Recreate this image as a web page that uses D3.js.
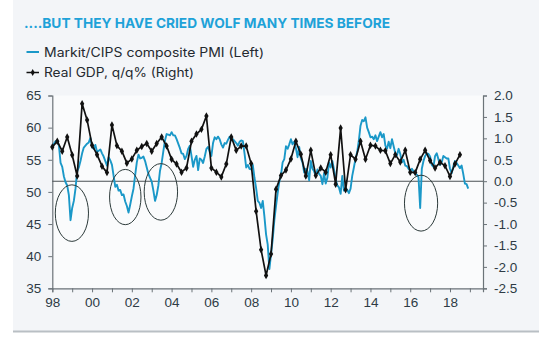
<!DOCTYPE html>
<html>
<head>
<meta charset="utf-8">
<script src="https://cdn.jsdelivr.net/npm/d3@7"></script>
<style>
  body { margin: 0; background: #fff; }
  .tick text { font-family: "Liberation Sans", Arial, sans-serif; font-size: 13.5px; fill: #2e3b45; }
  .axis path, .axis line { stroke: #6b7378; }
</style>
</head>
<body>
<svg id="chart" width="539" height="345"></svg>
<script>
// Markit/CIPS composite PMI, monthly from Jan 1998
var pmi = [
  56.8, 57.5, 57.9, 58.0, 57.2, 54.5, 53.9, 52.4, 51.5, 51.0, 49.5, 45.6, // 1998
  47.5, 48.6, 50.5, 53.2, 53.8, 54.8, 56.0, 56.9, 57.2, 57.5, 57.7, 58.4, // 1999
  57.0, 56.7, 57.3, 56.2, 56.4, 56.6, 56.0, 55.5, 54.8, 54.1, 55.4, 54.9, // 2000
  54.2, 52.5, 50.8, 51.1, 50.2, 50.3, 49.5, 49.6, 48.5, 47.8, 46.8, 48.0, // 2001
  49.3, 50.5, 52.6, 54.6, 55.8, 55.2, 55.3, 55.5, 54.8, 53.8, 52.8, 52.2, // 2002
  51.6, 50.2, 48.6, 49.5, 51.0, 53.3, 54.5, 56.3, 58.0, 59.0, 58.9, 58.8, // 2003
  59.3, 58.8, 58.8, 58.2, 57.5, 56.8, 56.0, 55.9, 55.1, 55.6, 56.7, 57.2, // 2004
  55.6, 53.9, 55.0, 55.6, 53.4, 55.2, 55.0, 54.5, 55.5, 56.7, 57.0, 56.2, // 2005
  55.6, 57.6, 58.5, 58.2, 58.6, 58.2, 57.4, 56.9, 57.6, 57.5, 58.1, 58.6, // 2006
  58.0, 58.2, 57.9, 57.6, 57.2, 57.8, 58.0, 57.9, 56.0, 53.8, 54.2, 53.6, // 2007
  53.5, 54.2, 52.2, 50.6, 48.6, 48.3, 47.5, 48.6, 46.2, 43.4, 41.8, 38.0, // 2008
  40.3, 42.6, 45.6, 47.8, 49.8, 51.6, 52.6, 54.6, 55.1, 57.1, 56.7, 57.4, // 2009
  58.2, 57.4, 57.8, 56.8, 55.4, 57.0, 55.2, 54.6, 53.0, 53.6, 53.2, 51.8, // 2010
  54.8, 53.6, 53.2, 52.5, 53.5, 52.8, 52.5, 51.2, 52.9, 51.3, 52.2, 54.6, // 2011
  53.8, 54.8, 53.5, 52.0, 51.0, 50.7, 49.7, 52.5, 50.2, 50.6, 50.3, 49.8, // 2012
  50.5, 52.5, 53.8, 55.2, 56.2, 58.0, 60.3, 61.2, 61.0, 61.6, 60.0, 59.3, // 2013
  58.5, 58.6, 58.2, 58.8, 57.9, 58.6, 59.3, 58.5, 59.0, 57.2, 56.7, 57.8, // 2014
  56.8, 58.2, 57.1, 56.0, 55.7, 56.7, 55.9, 54.6, 55.0, 54.1, 54.0, 53.6, // 2015
  53.3, 53.6, 53.2, 52.8, 52.7, 52.3, 47.5, 53.6, 54.8, 55.6, 56.0, 55.9, // 2016
  55.5, 54.2, 53.9, 55.6, 56.0, 55.1, 54.2, 54.6, 55.6, 55.4, 55.2, 55.2, // 2017
  53.6, 52.9, 54.0, 54.8, 54.5, 54.1, 53.7, 54.1, 52.8, 51.3, 51.2, 50.5  // 2018
];

// Real GDP q/q %, quarterly from 1998 Q1
var gdp = [
  0.80, 0.93, 0.70, 1.03,   // 1998
  0.61, 0.12, 1.81, 1.43,   // 1999
  0.84, 0.62, 0.35, 0.20,   // 2000
  1.31, 0.83, 0.70, 0.42,   // 2001
  0.52, 0.72, 0.81, 0.88,   // 2002
  0.70, 0.88, 1.03, 0.82,   // 2003
  0.51, 0.40, 0.21, 0.31,   // 2004
  0.93, 1.10, 1.21, 1.52,   // 2005
  0.31, 0.21, 0.10, 0.40,   // 2006
  1.03, 0.72, 0.82, 0.82,   // 2007
  0.41, -0.70, -1.60, -2.20, // 2008
  -1.70, -0.19, 0.13, 0.26, // 2009
  0.52, 0.93, 0.63, 0.12,   // 2010
  0.72, 0.13, 0.31, 0.21,   // 2011
  0.62, -0.07, 1.24, -0.20, // 2012
  0.62, 0.51, 0.93, 0.51,   // 2013
  0.84, 0.82, 0.72, 0.71,   // 2014
  0.41, 0.62, 0.45, 0.72,   // 2015
  0.21, 0.20, 0.51, 0.72,   // 2016
  0.48, 0.31, 0.44, 0.36,   // 2017
  0.11, 0.40, 0.62          // 2018
];

var leftTicks = [35, 40, 45, 50, 55, 60, 65];
var rightTicks = [-2.5, -2.0, -1.5, -1.0, -0.5, 0.0, 0.5, 1.0, 1.5, 2.0];
var yearTicks = d3.range(1998, 2020);
var yearLabels = d3.range(1998, 2019, 2);

// circled PMI dips: [start year, end year, pmi top, pmi bottom]
var circled = [
  [1998.15, 1999.82, 51.1, 42.3],
  [2000.88, 2002.46, 53.5, 44.9],
  [2002.62, 2004.30, 54.4, 45.6],
  [2015.71, 2017.38, 52.6, 43.9]
];

var titleText = "....BUT THEY HAVE CRIED WOLF MANY TIMES BEFORE";
var legendLabels = ["Markit/CIPS composite PMI (Left)", "Real GDP, q/q% (Right)"];

var blue = "#1a98c8";

var svg = d3.select("#chart");

// background panel
svg.append("rect")
    .attr("x", 13).attr("y", 0)
    .attr("width", 526).attr("height", 331)
    .attr("fill", "#f3f5f8");
svg.append("line")
    .attr("x1", 13).attr("x2", 539)
    .attr("y1", 331.5).attr("y2", 331.5)
    .attr("stroke", "#b9bfc4").attr("stroke-width", 2);

var x = d3.scaleLinear().domain([1998, 2019.66]).range([52.3, 483]);
var yL = d3.scaleLinear().domain([35, 65]).range([288.3, 95.5]);
var yR = d3.scaleLinear().domain([-2.5, 2.0]).range([288.3, 95.5]);

svg.append("rect")
    .attr("x", x.range()[0]).attr("y", yL(65))
    .attr("width", x.range()[1] - x.range()[0])
    .attr("height", yL(35) - yL(65))
    .attr("fill", "#fafbfc");

// title + legend
svg.append("text")
    .attr("x", 24).attr("y", 28)
    .attr("font-family", "Inter, 'Open Sans', sans-serif")
    .attr("font-weight", 700)
    .attr("font-size", 13.5)
    .attr("fill", "#1ea2d8")
    .attr("textLength", 366)
    .attr("lengthAdjust", "spacingAndGlyphs")
    .text(titleText);

var legend = svg.selectAll(".legend")
    .data(legendLabels)
    .enter().append("g")
    .attr("class", "legend")
    .attr("transform", (d, i) => "translate(0," + (52 + i * 20.5) + ")");

legend.append("line")
    .attr("x1", 26.5).attr("x2", 39)
    .attr("stroke", (d, i) => i == 0 ? blue : "#111")
    .attr("stroke-width", (d, i) => i == 0 ? 2 : 1.5);

legend.filter((d, i) => i == 1).append("path")
    .attr("transform", "translate(32.7,0)")
    .attr("d", d3.symbol().type(d3.symbolDiamond).size(14)())
    .attr("fill", "#111");

legend.append("text")
    .attr("x", 44).attr("y", 4.5)
    .attr("font-family", "Inter, 'Open Sans', sans-serif")
    .attr("font-size", 12.5)
    .attr("fill", "#252a30")
    .attr("textLength", (d, i) => i == 0 ? 220 : 150)
    .attr("lengthAdjust", "spacingAndGlyphs")
    .text(d => d);

// axes
var fmtR = d3.format(".1f");

svg.append("g")
    .attr("class", "axis")
    .attr("transform", "translate(" + x.range()[0] + ",0)")
    .call(d3.axisLeft(yL).tickValues(leftTicks).tickSize(4).tickPadding(7).tickFormat(d3.format("d")));

svg.append("g")
    .attr("class", "axis")
    .attr("transform", "translate(" + x.range()[1] + ",0)")
    .call(d3.axisRight(yR).tickValues(rightTicks).tickSize(4).tickPadding(7)
        .tickFormat(d => fmtR(d).replace("\u2212", "-")));

svg.append("g")
    .attr("class", "axis")
    .attr("transform", "translate(0," + yL.range()[0] + ")")
    .call(d3.axisBottom(x).tickValues(yearTicks).tickSize(4).tickPadding(5)
        .tickFormat(d => yearLabels.indexOf(d) >= 0 ? String(d).slice(2) : ""));

svg.selectAll(".axis .domain").attr("stroke-width", 1.2);

// zero line of the right axis
svg.append("line")
    .attr("x1", x.range()[0]).attr("x2", x.range()[1])
    .attr("y1", yR(0)).attr("y2", yR(0))
    .attr("stroke", "#4a5055").attr("stroke-width", 1.1);

// PMI line
var pmiLine = d3.line()
    .x((d, i) => x(1998 + i / 12))
    .y(d => yL(d));

svg.append("path")
    .datum(pmi)
    .attr("fill", "none")
    .attr("stroke", blue)
    .attr("stroke-width", 1.9)
    .attr("stroke-linejoin", "round")
    .attr("d", pmiLine);

// GDP line
var gdpLine = d3.line()
    .x((d, i) => x(1998 + i / 4))
    .y(d => yR(d));

svg.append("path")
    .datum(gdp)
    .attr("fill", "none")
    .attr("stroke", "#111")
    .attr("stroke-width", 1.7)
    .attr("stroke-linejoin", "round")
    .attr("d", gdpLine);

svg.selectAll(".gdpDot")
    .data(gdp)
    .enter().append("path")
    .attr("class", "gdpDot")
    .attr("transform", (d, i) => "translate(" + x(1998 + i / 4) + "," + yR(d) + ")")
    .attr("d", d3.symbol().type(d3.symbolDiamond).size(16)())
    .attr("fill", "#111");

// ellipses round the false alarms
svg.selectAll(".ring")
    .data(circled)
    .enter().append("ellipse")
    .attr("class", "ring")
    .attr("cx", d => (x(d[0]) + x(d[1])) / 2)
    .attr("cy", d => (yL(d[2]) + yL(d[3])) / 2)
    .attr("rx", d => (x(d[1]) - x(d[0])) / 2)
    .attr("ry", d => (yL(d[3]) - yL(d[2])) / 2)
    .attr("fill", "none")
    .attr("stroke", "#2c3a3a")
    .attr("stroke-width", 1);
</script>
</body>
</html>
